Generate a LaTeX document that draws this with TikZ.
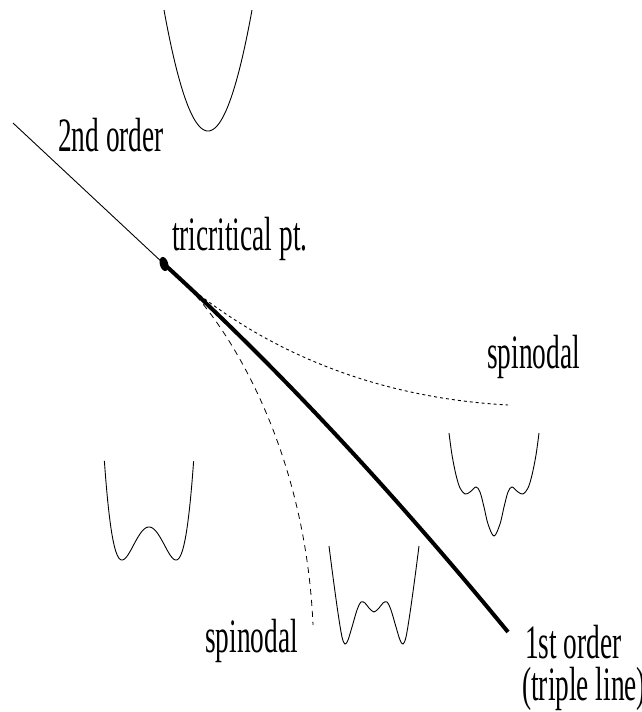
\documentclass[tikz,border=0pt]{standalone}
\usepackage{fontspec}
\setmainfont{Liberation Serif}
\begin{document}
\begin{tikzpicture}[x=1pt,y=-1pt,
  thinline/.style={line width=0.9pt},
  thickline/.style={line width=4pt},
  spinA/.style={line width=0.9pt, dash pattern=on 3pt off 3pt},
  spinB/.style={line width=0.8pt, dash pattern=on 6pt off 5pt},
  pot/.style={line width=0.9pt},
  lbl/.style={anchor=base west, inner sep=0pt, font=\fontsize{48}{48}\selectfont}]
\useasboundingbox (0,0) rectangle (642,712);
\clip (0,0) rectangle (642,712);
\fill[white] (0,0) rectangle (642,712);

% phase boundary
\coordinate (a) at (13,123);
\coordinate (tc) at (164,264);
\coordinate (c1) at (279,369);
\coordinate (c2) at (393,492);
\coordinate (e) at (508,632);
\draw[thinline] (a) -- (tc);
\draw[thickline] (tc) .. controls (c1) and (c2) .. (e);
\fill (tc) ellipse [x radius=4.2, y radius=7.2, rotate=15];

% spinodals
\coordinate (s0) at (181,280);
\coordinate (su) at (508,405);
\coordinate (sl) at (313,625);
\draw[spinA] (s0) .. controls (240,330) and (345,396) .. (su);
\draw[spinB] (s0) .. controls (222,318) and (305,440) .. (sl);

% potentials
\draw[pot, domain=-1:1, samples=80, smooth] plot ({208+44*\x}, {131-121*\x*\x});
\draw[pot, domain=-1.653:1.653, samples=100, smooth] plot ({149+27*\x}, {560-33*(\x*\x-1)^2});
\draw[pot, smooth, tension=0.55] plot coordinates {(329,546) (333,577) (338,613) (342,637) (345,644) (348,640) (352,627) (357,610) (361,602) (365,603) (369,608) (374,612) (379,608) (383,603) (387,602) (391,610) (396,627) (400,640) (403,644) (406,637) (410,613) (415,577) (419,546)};
\draw[pot, smooth, tension=0.55] plot coordinates {(449,433) (452,455) (456,475) (460,488) (465,494) (470,492) (476,487) (480,492) (484,507) (488,524) (494,536) (500,524) (504,507) (508,492) (512,487) (518,492) (523,494) (528,488) (532,475) (536,455) (539,433)};

% labels
\node[lbl] (l2nd) at (58,151) {\scalebox{0.57}[1]{2nd order}};
\node[lbl] (ltc) at (172,250) {\scalebox{0.57}[1]{tricritical pt.}};
\node[lbl] (lsp1) at (487,368) {\scalebox{0.57}[1]{spinodal}};
\node[lbl] (lsp2) at (205,652) {\scalebox{0.57}[1]{spinodal}};
\node[lbl] (l1st) at (525,658) {\scalebox{0.57}[1]{1st order}};
\node[lbl] (ltl) at (522,700) {\scalebox{0.57}[1]{(triple line)}};
\end{tikzpicture}
\end{document}
